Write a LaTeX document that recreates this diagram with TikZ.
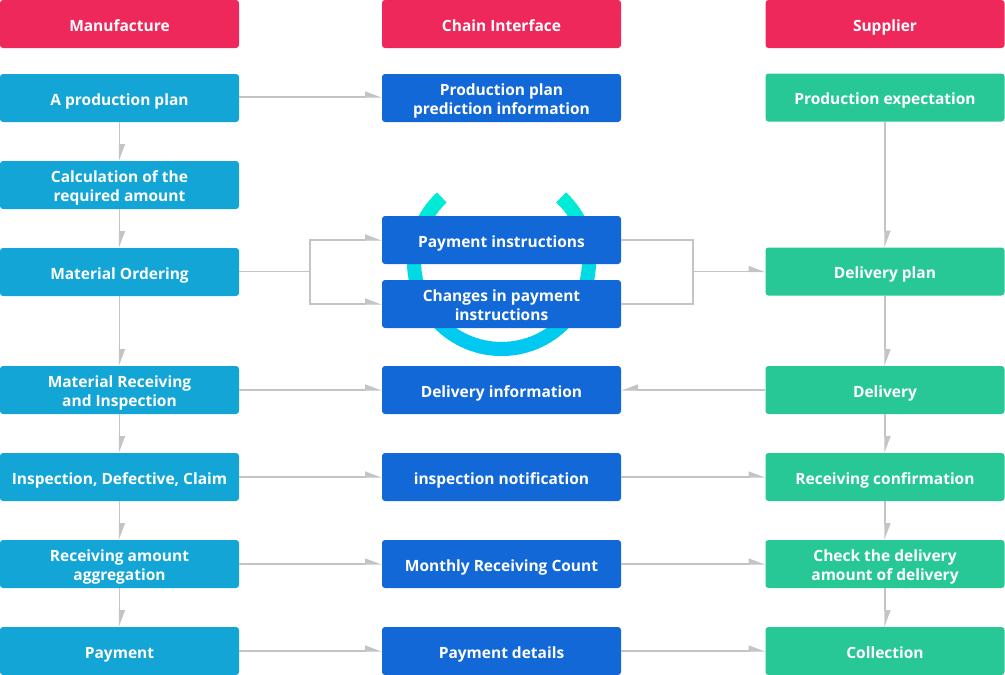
\documentclass[tikz,border=0pt]{standalone}
\usepackage{fontspec}
\setmainfont{Open Sans}
\usetikzlibrary{arrows.meta,calc}
\definecolor{hdr}{RGB}{238,40,90}
\definecolor{lcol}{RGB}{18,165,214}
\definecolor{mcol}{RGB}{18,104,214}
\definecolor{rcol}{RGB}{39,200,150}
\definecolor{conn}{RGB}{196,196,196}
\definecolor{ringtop}{RGB}{0,242,208}
\definecolor{ringbot}{RGB}{0,200,242}
\tikzset{
  box/.style={rectangle, rounded corners=3pt, minimum width=239pt, minimum height=48pt,
    text=white, align=center, inner sep=0pt, font=\fontsize{15.5}{19}\selectfont\bfseries,
    execute at begin node={\rule{0pt}{18pt}}, execute at end node={\rule[-4pt]{0pt}{4pt}}},
  two/.style={execute at begin node={\rule{0pt}{37pt}}},
  hbox/.style={box, fill=hdr},
  lbox/.style={box, fill=lcol},
  mbox/.style={box, fill=mcol},
  rbox/.style={box, fill=rcol},
  line/.style={draw=conn, line width=1.2pt},
  arr/.style={line, -{Triangle[length=15pt, width=11pt, left]}},
  arrR/.style={line, -{Triangle[length=15pt, width=11pt, right]}},
}
\begin{document}
\begin{tikzpicture}[x=1pt, y=-1pt]
\useasboundingbox (0,0) rectangle (1005,675);
% ring
\foreach \a in {133,136,...,403} {
  \pgfmathsetmacro\t{50+50*sin(\a+2)}
  \draw[line width=14pt, color=ringtop!\t!ringbot]
    ($(501.5pt,-261.5pt)+(\a:87.5pt)$) arc[start angle=\a, end angle=\a+4, radius=87.5pt];
}
\draw[line width=14pt, color=ringtop!85!ringbot]
    ($(501.5pt,-261.5pt)+(403:87.5pt)$) arc[start angle=403, end angle=407, radius=87.5pt];
% headers
\node[hbox] (hl) at (119.5,24) {Manufacture};
\node[hbox] (hm) at (501.5,24) {Chain Interface};
\node[hbox] (hr) at (885,24) {Supplier};
% left column
\node[lbox] (l1) at (119.5,98) {A production plan};
\node[lbox, two] (l2) at (119.5,185) {Calculation of the\\required amount};
\node[lbox] (l3) at (119.5,272) {Material Ordering};
\node[lbox, two] (l4) at (119.5,390) {Material Receiving\\and Inspection};
\node[lbox] (l5) at (119.5,477) {Inspection, Defective, Claim};
\node[lbox, two] (l6) at (119.5,564) {Receiving amount\\aggregation};
\node[lbox] (l7) at (119.5,651) {Payment};
% middle column
\node[mbox, two] (m1) at (501.5,98) {Production plan\\prediction information};
\node[mbox] (m2) at (501.5,240) {Payment instructions};
\node[mbox, two] (m3) at (501.5,304) {Changes in payment\\instructions};
\node[mbox] (m4) at (501.5,390) {Delivery information};
\node[mbox] (m5) at (501.5,477) {inspection notification};
\node[mbox] (m6) at (501.5,564) {Monthly Receiving Count};
\node[mbox] (m7) at (501.5,651) {Payment details};
% right column
\node[rbox] (r1) at (885,97.5) {Production expectation};
\node[rbox] (r2) at (885,271.5) {Delivery plan};
\node[rbox] (r3) at (885,390) {Delivery};
\node[rbox] (r4) at (885,477) {Receiving confirmation};
\node[rbox, two] (r5) at (885,564) {Check the delivery\\amount of delivery};
\node[rbox] (r6) at (885,651) {Collection};
% left vertical
\draw[arr] (l1) -- (l2);
\draw[arr] (l2) -- (l3);
\draw[arr] (l3) -- (l4);
\draw[arr] (l4) -- (l5);
\draw[arr] (l5) -- (l6);
\draw[arr] (l6) -- (l7);
% right vertical
\draw[arr] (r1) -- (r2);
\draw[arr] (r2) -- (r3);
\draw[arr] (r3) -- (r4);
\draw[arr] (r4) -- (r5);
\draw[arr] (r5) -- (r6);
% horizontals
\draw[arr] (l1.east |- 0,97) -- (m1.west |- 0,97);
\coordinate (jl) at (310,271.5);
\coordinate (jr) at (693,271.5);
\draw[line] (l3.east |- jl) -- (jl);
\draw[arr] (jl) |- (m2.west);
\draw[arr] (jl) |- (m3.west);
\draw[line] (m2.east) -| (jr);
\draw[line] (m3.east) -| (jr);
\draw[arr] (jr) -- (r2.west |- jr);
\draw[arr] (l4) -- (m4);
\draw[arrR] (r3) -- (m4);
\draw[arr] (l5) -- (m5);
\draw[arr] (m5) -- (r4);
\draw[arr] (l6) -- (m6);
\draw[arr] (m6) -- (r5);
\draw[arr] (l7) -- (m7);
\draw[arr] (m7) -- (r6);
\end{tikzpicture}
\end{document}
